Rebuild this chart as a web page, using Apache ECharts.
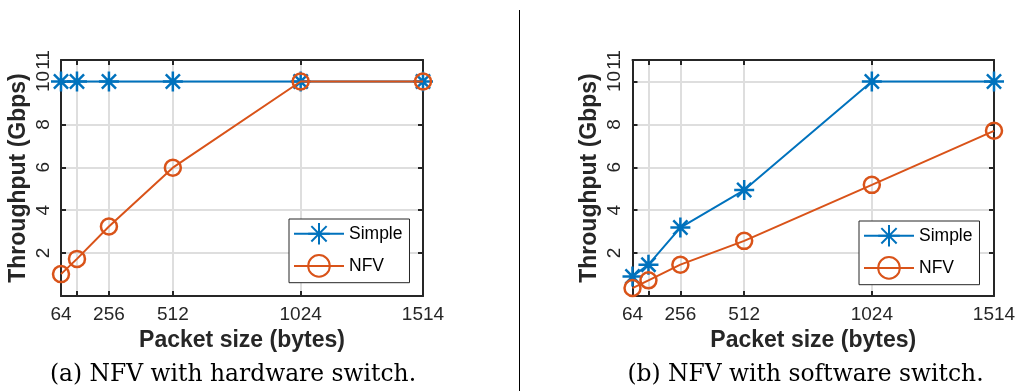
<!DOCTYPE html>
<html><head><meta charset="utf-8">
<script src="https://cdn.jsdelivr.net/npm/echarts@6/dist/echarts.min.js"></script>
<style>html,body{margin:0;padding:0;background:#fff}#c{width:1019px;height:391px}</style>
</head><body><div id="c"></div><script>
// ---- data ----
const packetSizes = [64, 128, 256, 512, 1024, 1514];
const xTickValues = [64, 128, 256, 512, 1024, 1514];
const xLabelValues = [64, 256, 512, 1024, 1514];
const yTickValues = [2, 4, 6, 8, 10, 11];
const hwSimple = [10, 10, 10, 10, 10, 10];
const hwNFV = [1.02, 1.73, 3.24, 5.98, 10, 10];
const swSimple = [0.91, 1.46, 3.19, 4.94, 10, 10];
const swNFV = [0.37, 0.73, 1.46, 2.57, 5.18, 7.70];
const seriesNames = ['Simple', 'NFV'];
const captions = ['(a) NFV with hardware switch.', '(b) NFV with software switch.'];
const xTitle = 'Packet size (bytes)';
const yTitle = 'Throughput (Gbps)';

const BLUE = '#0072BD', ORANGE = '#D95319', AX = '#262626', GRID = '#dedede';
const SANS = 'Liberation Sans, Arial, Helvetica, sans-serif';
const STAR = 'path://M8,0L8,16M0,8L16,8M2.34,2.34L13.66,13.66M2.34,13.66L13.66,2.34';

const grids = [
  {left: 61, top: 60, width: 362, height: 236},
  {left: 632.5, top: 60, width: 361.5, height: 236}
];

function pairs(ys) { return packetSizes.map((x, i) => [x, ys[i]]); }
const plain = v => String(v);

const xAxes = [], yAxes = [], series = [];
grids.forEach((g, gi) => {
  xAxes.push({
    type: 'value', gridIndex: gi, min: 64, max: 1514, position: 'bottom',
    name: xTitle, nameLocation: 'middle', nameGap: 27,
    nameTextStyle: {fontFamily: SANS, fontWeight: 'bold', fontSize: 23, color: AX},
    axisLine: {show: true, lineStyle: {color: AX, width: 2}},
    axisTick: {show: true, inside: true, length: 5, lineStyle: {color: AX, width: 2}, customValues: xTickValues},
    axisLabel: {show: true, margin: 9, fontFamily: SANS, fontSize: 19, color: AX, customValues: xLabelValues, formatter: plain},
    splitLine: {show: true, lineStyle: {color: GRID, width: 2}}
  });
  xAxes.push({
    type: 'value', gridIndex: gi, min: 64, max: 1514, position: 'top',
    axisLine: {show: true, onZero: false, lineStyle: {color: AX, width: 2}},
    axisTick: {show: true, inside: true, length: 5, lineStyle: {color: AX, width: 2}, customValues: xTickValues},
    axisLabel: {show: false}, splitLine: {show: false}
  });
  yAxes.push({
    type: 'value', gridIndex: gi, min: 0, max: 11, position: 'left',
    name: yTitle, nameLocation: 'middle', nameGap: 31,
    nameTextStyle: {fontFamily: SANS, fontWeight: 'bold', fontSize: 23, color: AX},
    axisLine: {show: true, onZero: false, lineStyle: {color: AX, width: 2}},
    axisTick: {show: true, inside: true, length: 5, lineStyle: {color: AX, width: 2}, customValues: yTickValues},
    axisLabel: {show: true, rotate: 90, margin: 8, fontFamily: SANS, fontSize: 19, color: AX, customValues: yTickValues, formatter: plain},
    splitLine: {show: true, lineStyle: {color: GRID, width: 2}}
  });
  yAxes.push({
    type: 'value', gridIndex: gi, min: 0, max: 11, position: 'right',
    axisLine: {show: true, onZero: false, lineStyle: {color: AX, width: 2}},
    axisTick: {show: true, inside: true, length: 5, lineStyle: {color: AX, width: 2}, customValues: yTickValues},
    axisLabel: {show: false}, splitLine: {show: false}
  });
});

const dataSets = [[hwSimple, hwNFV], [swSimple, swNFV]];
dataSets.forEach((ds, gi) => {
  series.push({
    name: seriesNames[0], type: 'line', xAxisIndex: gi * 2, yAxisIndex: gi * 2,
    data: pairs(ds[0]), symbol: STAR, symbolSize: 20, symbolKeepAspect: true,
    lineStyle: {color: BLUE, width: 2},
    itemStyle: {color: BLUE, borderColor: BLUE, borderWidth: 2.5},
    emphasis: {disabled: true}, animation: false, z: 3
  });
  series.push({
    name: seriesNames[1], type: 'line', xAxisIndex: gi * 2, yAxisIndex: gi * 2,
    data: pairs(ds[1]), symbol: 'circle', symbolSize: 16,
    lineStyle: {color: ORANGE, width: 2},
    itemStyle: {color: 'rgba(0,0,0,0)', borderColor: ORANGE, borderWidth: 2.5},
    emphasis: {disabled: true}, animation: false, z: 4
  });
});

function legendAt(left, top) {
  return {
    left: left, top: top, orient: 'vertical', data: seriesNames, selectedMode: false,
    itemWidth: 50, itemHeight: 27, itemGap: 8.5, padding: [3, 7, 5, 4],
    borderColor: AX, borderWidth: 1, backgroundColor: '#fff',
    textStyle: {fontFamily: SANS, fontSize: 17.5, color: '#000'}
  };
}

const option = {
  animation: false,
  grid: grids.map(g => Object.assign({containLabel: false}, g)),
  xAxis: xAxes, yAxis: yAxes, series: series,
  legend: [legendAt(289, 219), legendAt(859, 221)],
  title: [
    {text: captions[0], left: 228, top: 358, textAlign: 'center',
     textStyle: {fontFamily: 'DejaVu Serif', fontWeight: 'normal', fontSize: 23.4, color: '#000'}},
    {text: captions[1], left: 800.5, top: 358, textAlign: 'center',
     textStyle: {fontFamily: 'DejaVu Serif', fontWeight: 'normal', fontSize: 23.4, color: '#000'}}
  ],
  graphic: [{type: 'line', shape: {x1: 519.5, y1: 10, x2: 519.5, y2: 391}, style: {stroke: '#000', lineWidth: 1}}]
};
const chart = echarts.init(document.getElementById('c'));
chart.setOption(option);
</script></body></html>
